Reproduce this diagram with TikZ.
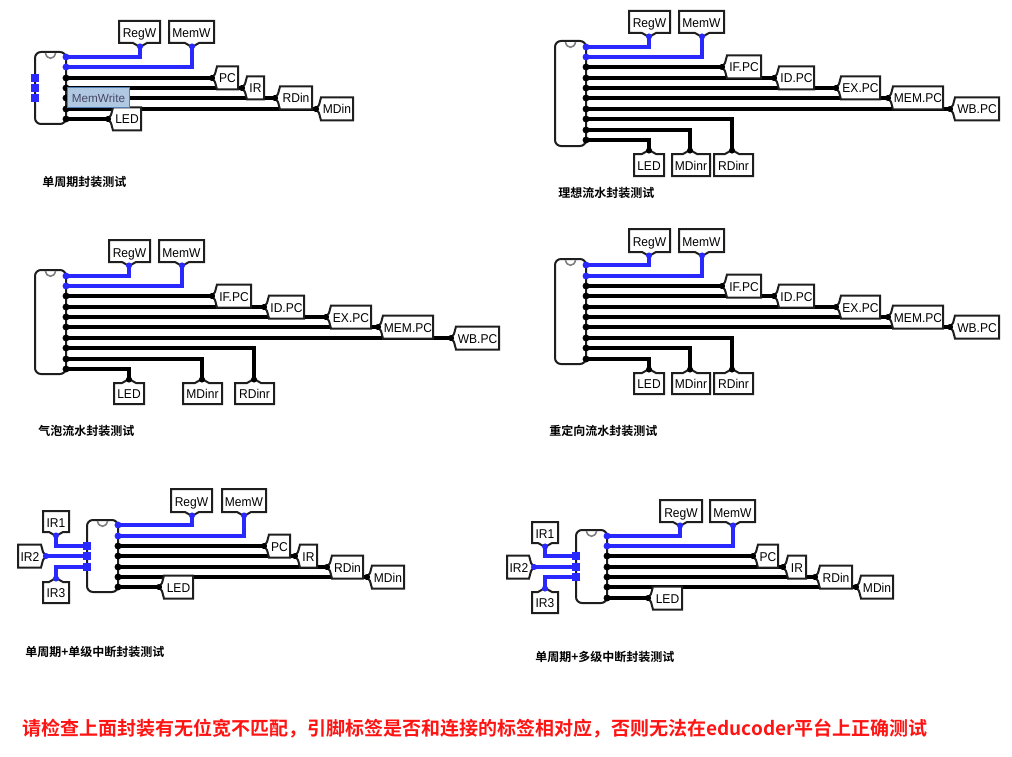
\documentclass[tikz,border=0pt]{standalone}
\usepackage{fontspec}
\setmainfont{Liberation Sans}
\newfontfamily\lab{Liberation Sans}[FakeStretch=0.94]
\newfontfamily\cjk{Noto Sans CJK SC}[BoldFont={Noto Sans CJK SC Bold}]
\definecolor{wireblue}{RGB}{40,40,255}
\definecolor{tipfill}{RGB}{176,200,226}
\definecolor{tipedge}{RGB}{80,125,180}
\definecolor{tiptext}{RGB}{70,70,100}
\definecolor{edgeink}{RGB}{30,30,30}
\definecolor{redink}{RGB}{255,20,20}
\tikzset{
 wirek/.style={line width=2.3pt,black,line cap=butt,line join=miter},
 wireb/.style={line width=2.3pt,wireblue,line cap=butt,line join=miter},
 tunnel/.style={draw=edgeink,fill=white,line width=1.5pt,line join=miter},
 chipbody/.style={draw=edgeink,fill=white,line width=1.5pt,rounded corners=4.5pt},
 tunneltext/.style={font=\lab\fontsize{9.6pt}{11pt}\selectfont,inner sep=0pt,text=black,anchor=base},
 caption/.style={font=\cjk\bfseries\fontsize{9pt}{11pt}\selectfont,inner sep=0pt,anchor=west,text=black},
 warning/.style={font=\cjk\bfseries\fontsize{14.25pt}{17pt}\selectfont,inner sep=0pt,anchor=west,text=redink},
 dotk/.style={circle,fill=black,inner sep=0pt,minimum size=5.2pt},
 dotb/.style={circle,fill=wireblue,inner sep=0pt,minimum size=5.2pt},
 tipk/.style={circle,fill=black,inner sep=0pt,minimum size=4.6pt},
 tipb/.style={circle,fill=wireblue,inner sep=0pt,minimum size=4.6pt},
 squareb/.style={rectangle,fill=wireblue,inner sep=0pt,minimum size=5.4pt},
}
% chip: name, left, right, top, bottom
\newcommand{\chipbox}[5]{%
 \draw[chipbody] (#2,#4) rectangle (#3,#5);
 \draw[gray,line width=1.2pt] ({(#2+#3)/2-5},#4+1) .. controls ({(#2+#3)/2-4},#4+8) and ({(#2+#3)/2+4},#4+8) .. ({(#2+#3)/2+5},#4+1);
 \coordinate (#1) at (#3,#4);}
% tunnel with tip left: name, tipx, y, right, text
\newcommand{\tunL}[5]{%
 \path[tunnel,draw] (#2,#3) -- (#2+3,#3-4) -- (#2+5,#3-11.5) -- (#4,#3-11.5) -- (#4,#3+11.5) -- (#2+5,#3+11.5) -- (#2+3,#3+4) -- cycle;
 \node[tunneltext] (#1) at ({(#2+5+#4)/2},#3+5) {#5};
 \node[tipk] (#1tip) at (#2,#3) {};}
% tunnel with tip below (box above): name, tipx, tipy, left, right, top, text, tipstyle
\newcommand{\tunU}[8]{%
 \path[tunnel,draw] (#2,#3) -- (#2+7,#3-4) -- (#5,#3-4) -- (#5,#6) -- (#4,#6) -- (#4,#3-4) -- (#2-7,#3-4) -- cycle;
 \node[tunneltext] (#1) at ({(#4+#5)/2},{(#3-4+#6)/2+6}) {#7};
 \node[#8] (#1tip) at (#2,#3-0.5) {};}
% tunnel with tip above (box below): name, tipx, tipy, left, right, bottom, text, tipstyle
\newcommand{\tunD}[8]{%
 \path[tunnel,draw] (#2,#3) -- (#2+7,#3+4) -- (#5,#3+4) -- (#5,#6) -- (#4,#6) -- (#4,#3+4) -- (#2-7,#3+4) -- cycle;
 \node[tunneltext] (#1) at ({(#4+#5)/2},{(#3+4+#6)/2+5}) {#7};
 \node[#8] (#1tip) at (#2,#3+0.5) {};}
\begin{document}
\begin{tikzpicture}[x=0.75pt,y=-0.75pt]
\useasboundingbox (0,0) rectangle (1012,756);
\fill[white] (0,0) rectangle (1012,756);

%% ---------- group 1
\draw[wireb] (66,57) -- (140,57) -- (140,47);
\draw[wireb] (66,67) -- (192,67) -- (192,47);
\draw[wirek] (66,78) -- (212,78);
\draw[wirek] (66,88) -- (242,88);
\draw[wirek] (66,98) -- (275,98);
\draw[wirek] (66,109) -- (316,109);
\draw[wirek] (66,119) -- (108,119);
\chipbox{c1}{35}{66}{52}{124}
\foreach \n/\y in {a/57,b/67}{\node[dotb] (c1\n) at (66,\y) {};}
\foreach \n/\y in {c/78,d/88,e/98,f/109,g/119}{\node[dotk] (c1\n) at (66,\y) {};}
\foreach \n/\y in {h/78,i/88,j/98}{\node[squareb] (c1\n) at (35,\y) {};}
\tunU{g1regw}{140}{47}{119}{160}{21}{RegW}{tipb}
\tunU{g1memw}{192}{47}{169}{214}{21}{MemW}{tipb}
\tunL{g1mdin}{316}{109}{353}{MDin}
\tunL{g1rdin}{275}{98}{312}{RDin}
\tunL{g1ir}{242}{88}{264}{IR}
\tunL{g1pc}{212}{78}{238}{PC}
\tunL{g1led}{108}{119}{141}{LED}
\node[draw=tipedge,fill=tipfill,line width=0.75pt,minimum width=47pt,minimum height=15pt,inner sep=0pt,text=tiptext,font=\fontsize{8.8pt}{10pt}\selectfont] (g1tip) at (98.5,98) {MemWrite};
\node[caption] (g1cap) at (42,182) {单周期封装测试};

%% ---------- group 2
\draw[wireb] (586,47) -- (649,47) -- (649,37);
\draw[wireb] (586,57) -- (702,57) -- (702,37);
\draw[wirek] (586,67) -- (722,67);
\draw[wirek] (586,78) -- (774,78);
\draw[wirek] (586,88) -- (836,88);
\draw[wirek] (586,98) -- (888,98);
\draw[wirek] (586,109) -- (950,109);
\draw[wirek] (586,119) -- (732,119) -- (732,150);
\draw[wirek] (586,130) -- (690,130) -- (690,150);
\draw[wirek] (586,140) -- (649,140) -- (649,150);
\chipbox{c2}{555}{586}{41}{146}
\foreach \n/\y in {a/47,b/57}{\node[dotb] (c2\n) at (586,\y) {};}
\foreach \n/\y in {c/67,d/78,e/88,f/98,g/109,h/119,i/130,j/140}{\node[dotk] (c2\n) at (586,\y) {};}
\tunU{g2regw}{649}{37}{629}{670}{11}{RegW}{tipb}
\tunU{g2memw}{702}{37}{679}{724}{11}{MemW}{tipb}
\tunL{g2wb}{950}{109}{999}{WB.PC}
\tunL{g2mem}{888}{98}{943}{MEM.PC}
\tunL{g2ex}{836}{88}{880}{EX.PC}
\tunL{g2id}{774}{78}{814}{ID.PC}
\tunL{g2if}{722}{67}{761}{IF.PC}
\tunD{g2led}{649}{150}{634}{664}{176}{LED}{tipk}
\tunD{g2md}{690}{150}{672}{710}{176}{MDinr}{tipk}
\tunD{g2rd}{732}{150}{714}{753}{176}{RDinr}{tipk}
\node[caption] (g2cap) at (558,193) {理想流水封装测试};

%% ---------- group 3
\draw[wireb] (66,276) -- (129,276) -- (129,266);
\draw[wireb] (66,286) -- (182,286) -- (182,266);
\draw[wirek] (66,296) -- (212,296);
\draw[wirek] (66,307) -- (264,307);
\draw[wirek] (66,317) -- (326,317);
\draw[wirek] (66,327) -- (378,327);
\draw[wirek] (66,338) -- (451,338);
\draw[wirek] (66,348) -- (254,348) -- (254,379);
\draw[wirek] (66,359) -- (202,359) -- (202,379);
\draw[wirek] (66,369) -- (129,369) -- (129,379);
\chipbox{c3}{35}{66}{270}{374}
\foreach \n/\y in {a/276,b/286}{\node[dotb] (c3\n) at (66,\y) {};}
\foreach \n/\y in {c/296,d/307,e/317,f/327,g/338,h/348,i/359,j/369}{\node[dotk] (c3\n) at (66,\y) {};}
\tunU{g3regw}{129}{266}{109}{150}{240}{RegW}{tipb}
\tunU{g3memw}{182}{266}{159}{204}{240}{MemW}{tipb}
\tunL{g3wb}{451}{338}{499}{WB.PC}
\tunL{g3mem}{378}{327}{433}{MEM.PC}
\tunL{g3ex}{326}{317}{371}{EX.PC}
\tunL{g3id}{264}{307}{304}{ID.PC}
\tunL{g3if}{212}{296}{251}{IF.PC}
\tunD{g3led}{129}{379}{114}{144}{404}{LED}{tipk}
\tunD{g3md}{202}{379}{183}{222}{404}{MDinr}{tipk}
\tunD{g3rd}{254}{379}{235}{274}{404}{RDinr}{tipk}
\node[caption] (g3cap) at (38,431) {气泡流水封装测试};

%% ---------- group 4
\draw[wireb] (586,265) -- (649,265) -- (649,256);
\draw[wireb] (586,276) -- (702,276) -- (702,256);
\draw[wirek] (586,286) -- (722,286);
\draw[wirek] (586,296) -- (774,296);
\draw[wirek] (586,307) -- (836,307);
\draw[wirek] (586,317) -- (888,317);
\draw[wirek] (586,327) -- (950,327);
\draw[wirek] (586,338) -- (732,338) -- (732,369);
\draw[wirek] (586,348) -- (690,348) -- (690,369);
\draw[wirek] (586,359) -- (649,359) -- (649,369);
\chipbox{c4}{555}{586}{259}{364}
\foreach \n/\y in {a/265,b/276}{\node[dotb] (c4\n) at (586,\y) {};}
\foreach \n/\y in {c/286,d/296,e/307,f/317,g/327,h/338,i/348,j/359}{\node[dotk] (c4\n) at (586,\y) {};}
\tunU{g4regw}{649}{256}{629}{670}{229}{RegW}{tipb}
\tunU{g4memw}{702}{256}{679}{724}{229}{MemW}{tipb}
\tunL{g4wb}{950}{327}{999}{WB.PC}
\tunL{g4mem}{888}{317}{943}{MEM.PC}
\tunL{g4ex}{836}{307}{880}{EX.PC}
\tunL{g4id}{774}{296}{814}{ID.PC}
\tunL{g4if}{722}{286}{761}{IF.PC}
\tunD{g4led}{649}{369}{634}{664}{394}{LED}{tipk}
\tunD{g4md}{690}{369}{672}{710}{394}{MDinr}{tipk}
\tunD{g4rd}{732}{369}{714}{753}{394}{RDinr}{tipk}
\node[caption] (g4cap) at (549,431) {重定向流水封装测试};

%% ---------- group 5
\draw[wireb] (118,525) -- (192,525) -- (192,516);
\draw[wireb] (118,536) -- (244,536) -- (244,516);
\draw[wirek] (118,546) -- (264,546);
\draw[wirek] (118,556) -- (295,556);
\draw[wirek] (118,567) -- (327,567);
\draw[wirek] (118,577) -- (367,577);
\draw[wirek] (118,587) -- (159,587);
\draw[wireb] (56,536) -- (56,546) -- (87,546);
\draw[wireb] (46,556) -- (87,556);
\draw[wireb] (56,578) -- (56,567) -- (87,567);
\chipbox{c5}{87}{118}{520}{592}
\foreach \n/\y in {a/525,b/536}{\node[dotb] (c5\n) at (118,\y) {};}
\foreach \n/\y in {c/546,d/556,e/567,f/577,g/587}{\node[dotk] (c5\n) at (118,\y) {};}
\foreach \n/\y in {h/546,i/556,j/567}{\node[squareb] (c5\n) at (87,\y) {};}
\tunU{g5regw}{192}{516}{171}{212}{489}{RegW}{tipb}
\tunU{g5memw}{244}{516}{222}{266}{489}{MemW}{tipb}
\tunL{g5mdin}{367}{577}{404}{MDin}
\tunL{g5rdin}{327}{567}{363}{RDin}
\tunL{g5ir}{295}{556}{317}{IR}
\tunL{g5pc}{264}{546}{290}{PC}
\tunL{g5led}{159}{587}{193}{LED}
\tunU{g5i1}{56}{536}{43}{69}{511}{IR1}{tipb}
\tunD{g5i3}{56}{578}{43}{69}{603}{IR3}{tipb}
\path[tunnel,draw] (46,556) -- (43,552) -- (41,544.5) -- (18,544.5) -- (18,567.5) -- (41,567.5) -- (43,560) -- cycle;
\node[tunneltext] (g5i2) at (30,561) {IR2};
\node[tipb] (g5i2tip) at (46,556) {};
\node[caption] (g5cap) at (25,652) {单周期+单级中断封装测试};

%% ---------- group 6
\draw[wireb] (607,536) -- (680,536) -- (680,525);
\draw[wireb] (607,546) -- (733,546) -- (733,525);
\draw[wirek] (607,556) -- (753,556);
\draw[wirek] (607,567) -- (783,567);
\draw[wirek] (607,577) -- (815,577);
\draw[wirek] (607,587) -- (856,587);
\draw[wirek] (607,598) -- (648,598);
\draw[wireb] (545,547) -- (545,556) -- (576,556);
\draw[wireb] (534,567) -- (576,567);
\draw[wireb] (545,588) -- (545,577) -- (576,577);
\chipbox{c6}{576}{607}{530}{603}
\foreach \n/\y in {a/536,b/546}{\node[dotb] (c6\n) at (607,\y) {};}
\foreach \n/\y in {c/556,d/567,e/577,f/587,g/598}{\node[dotk] (c6\n) at (607,\y) {};}
\foreach \n/\y in {h/556,i/567,j/577}{\node[squareb] (c6\n) at (576,\y) {};}
\tunU{g6regw}{680}{526}{660}{702}{500}{RegW}{tipb}
\tunU{g6memw}{733}{526}{710}{755}{500}{MemW}{tipb}
\tunL{g6mdin}{856}{587}{893}{MDin}
\tunL{g6rdin}{815}{577}{852}{RDin}
\tunL{g6ir}{783}{567}{806}{IR}
\tunL{g6pc}{753}{556}{778}{PC}
\tunL{g6led}{648}{598}{682}{LED}
\tunU{g6i1}{545}{547}{532}{558}{522}{IR1}{tipb}
\tunD{g6i3}{545}{588}{532}{558}{613}{IR3}{tipb}
\path[tunnel,draw] (534,567) -- (531,563) -- (529,555.5) -- (507,555.5) -- (507,578.5) -- (529,578.5) -- (531,571) -- cycle;
\node[tunneltext] (g6i2) at (519,572) {IR2};
\node[tipb] (g6i2tip) at (534,567) {};
\node[caption] (g6cap) at (535,657) {单周期+多级中断封装测试};

%% ---------- warning
\node[warning] (warn) at (22,729) {请检查上面封装有无位宽不匹配，引脚标签是否和连接的标签相对应，否则无法在educoder平台上正确测试};
\end{tikzpicture}
\end{document}
